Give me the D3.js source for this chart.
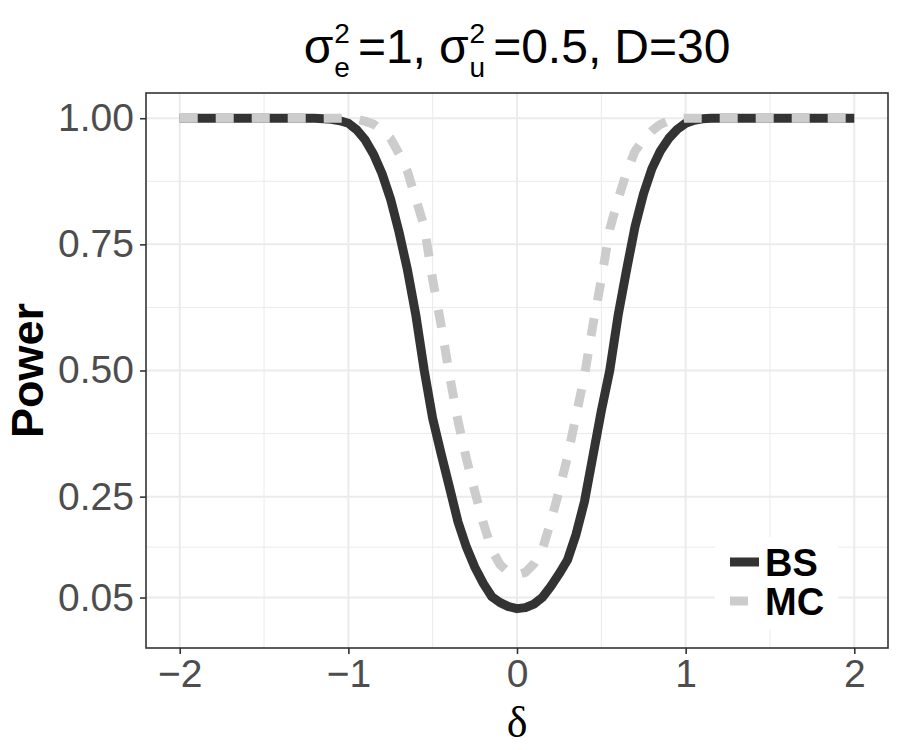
<!DOCTYPE html>
<html>
<head>
<meta charset="utf-8">
<script src="https://cdn.jsdelivr.net/npm/d3@7"></script>
<style>
    body { margin: 0; background: #fff; }
    svg { display: block; font-family: "Liberation Sans", Arial, sans-serif; }
</style>
</head>
<body>
<svg id="graph" width="900" height="750"></svg>
<script>
// delta grid (shared by both series)
const deltas = [-2, -1.6, -1.2, -1.15, -1.1, -1.05, -1.0, -0.95, -0.9, -0.85, -0.8, -0.75, -0.7, -0.65,
    -0.6, -0.55, -0.5, -0.45, -0.4, -0.35, -0.3, -0.25, -0.2, -0.15, -0.1, -0.05, 0,
    0.05, 0.1, 0.15, 0.2, 0.25, 0.3, 0.35, 0.4, 0.45, 0.5, 0.55, 0.6, 0.65, 0.7, 0.75, 0.8,
    0.85, 0.9, 0.95, 1.0, 1.05, 1.1, 1.15, 1.2, 1.6, 2];
// bootstrap power
const powerBS = [1, 1, 1, 0.999, 0.998, 0.995, 0.99, 0.977, 0.957, 0.928, 0.89, 0.84, 0.775, 0.7,
    0.61, 0.5, 0.405, 0.335, 0.268, 0.2, 0.15, 0.11, 0.078, 0.052, 0.04, 0.032, 0.028,
    0.03, 0.037, 0.05, 0.072, 0.097, 0.125, 0.175, 0.24, 0.33, 0.42, 0.5, 0.61, 0.7, 0.785, 0.85, 0.9,
    0.935, 0.96, 0.978, 0.99, 0.996, 0.999, 1, 1, 1, 1];
// monte carlo power
const powerMC = [1, 1, 1, 1, 1, 1, 1, 0.998, 0.994, 0.988, 0.975, 0.96, 0.93, 0.895,
    0.84, 0.785, 0.68, 0.59, 0.49, 0.4, 0.325, 0.26, 0.198, 0.145, 0.115, 0.1, 0.095,
    0.1, 0.117, 0.145, 0.2, 0.262, 0.33, 0.41, 0.49, 0.59, 0.68, 0.78, 0.84, 0.893, 0.935, 0.958, 0.975,
    0.988, 0.995, 0.999, 1, 1, 1, 1, 1, 1, 1];

const xTicks = [-2, -1, 0, 1, 2];
const xMinor = [-1.5, -0.5, 0.5, 1.5];
const yTicks = [0.05, 0.25, 0.5, 0.75, 1.0];
const yMinor = [0.15, 0.375, 0.625, 0.875];
const seriesNames = ['BS', 'MC'];

(function () {
    const svg = d3.select('#graph');
    const panel = { left: 146, right: 888, top: 93, bottom: 648 };

    const x = d3.scaleLinear().domain([-2.2, 2.2]).range([panel.left, panel.right]);
    const y = d3.scaleLinear().domain([-0.05, 1.05]).range([panel.bottom, panel.top]);

    const series = [
        { id: 'BS', values: powerBS, color: '#333333', dash: null },
        { id: 'MC', values: powerMC, color: '#CCCCCC', dash: '18,18' }
    ];

    // 패널 배경 + 그리드
    svg.append('rect')
        .attr('x', panel.left).attr('y', panel.top)
        .attr('width', panel.right - panel.left).attr('height', panel.bottom - panel.top)
        .attr('fill', '#fff');

    const grid = svg.append('g').attr('stroke', '#EBEBEB');
    grid.selectAll('.xm').data(xMinor).enter().append('line')
        .attr('x1', d => x(d)).attr('x2', d => x(d))
        .attr('y1', panel.top).attr('y2', panel.bottom).attr('stroke-width', 1);
    grid.selectAll('.ym').data(yMinor).enter().append('line')
        .attr('y1', d => y(d)).attr('y2', d => y(d))
        .attr('x1', panel.left).attr('x2', panel.right).attr('stroke-width', 1);
    grid.selectAll('.xM').data(xTicks).enter().append('line')
        .attr('x1', d => x(d)).attr('x2', d => x(d))
        .attr('y1', panel.top).attr('y2', panel.bottom).attr('stroke-width', 2);
    grid.selectAll('.yM').data(yTicks).enter().append('line')
        .attr('y1', d => y(d)).attr('y2', d => y(d))
        .attr('x1', panel.left).attr('x2', panel.right).attr('stroke-width', 2);

    // 선
    const line = d3.line()
        .x((d, i) => x(deltas[i]))
        .y(d => y(d));

    svg.append('g').selectAll('path')
        .data(series)
        .enter()
        .append('path')
        .attr('d', d => line(d.values))
        .attr('fill', 'none')
        .attr('stroke', d => d.color)
        .attr('stroke-width', 9)
        .attr('stroke-linejoin', 'round')
        .attr('stroke-dasharray', d => d.dash);

    // 범례
    const legend = svg.append('g');
    legend.append('rect')
        .attr('x', 715).attr('y', 537).attr('width', 123).attr('height', 93)
        .attr('fill', '#fff');
    const item = legend.selectAll('g')
        .data(series)
        .enter()
        .append('g')
        .attr('transform', (d, i) => `translate(730,${562 + i * 39})`);
    item.append('line')
        .attr('x1', 0).attr('x2', 29)
        .attr('stroke', d => d.color)
        .attr('stroke-width', 9)
        .attr('stroke-dasharray', d => d.dash);
    item.append('text')
        .attr('x', 35).attr('dy', '0.36em')
        .style('font-size', '38px').style('font-weight', 'bold')
        .attr('fill', '#000')
        .text((d, i) => seriesNames[i]);

    // 테두리
    svg.append('rect')
        .attr('x', panel.left).attr('y', panel.top)
        .attr('width', panel.right - panel.left).attr('height', panel.bottom - panel.top)
        .attr('fill', 'none').attr('stroke', '#333333').attr('stroke-width', 1.6);

    // x축
    const xAxis = svg.append('g')
        .attr('transform', `translate(0,${panel.bottom})`)
        .call(d3.axisBottom(x).tickValues(xTicks).tickSize(6).tickPadding(5)
            .tickFormat(d => d < 0 ? '\u2212' + Math.abs(d) : d));
    xAxis.select('.domain').remove();
    xAxis.selectAll('line').attr('stroke', '#333333').attr('stroke-width', 1.6);
    xAxis.selectAll('text').attr('fill', '#4D4D4D')
        .style('font-size', '39px').style('font-family', '"Liberation Sans", Arial, sans-serif');

    // y축
    const yAxis = svg.append('g')
        .attr('transform', `translate(${panel.left},0)`)
        .call(d3.axisLeft(y).tickValues(yTicks).tickSize(6).tickPadding(6)
            .tickFormat(d3.format('.2f')));
    yAxis.select('.domain').remove();
    yAxis.selectAll('line').attr('stroke', '#333333').attr('stroke-width', 1.6);
    yAxis.selectAll('text').attr('fill', '#4D4D4D')
        .style('font-size', '39px').style('font-family', '"Liberation Sans", Arial, sans-serif');

    // 축 제목
    svg.append('text')
        .attr('transform', `translate(43,${(panel.top + panel.bottom) / 2}) rotate(-90)`)
        .attr('text-anchor', 'middle')
        .style('font-size', '45px').style('font-weight', 'bold')
        .text('Power');
    svg.append('text')
        .attr('x', x(0)).attr('y', 737)
        .attr('text-anchor', 'middle')
        .style('font-size', '44px').style('font-family', '"Liberation Serif", "DejaVu Serif", serif')
        .text('δ');

    // 제목 (plotmath 스타일: 위첨자/아래첨자)
    const titleParts = [
        { t: 'σ' }, { sup: '2', sub: 'e' }, { t: '=1,', dx: 8 },
        { t: 'σ', dx: 13 }, { sup: '2', sub: 'u' }, { t: '=0.5,', dx: 8 }, { t: 'D=30', dx: 13 }
    ];
    const title = svg.append('g');
    let cx = 0;
    titleParts.forEach(p => {
        cx += p.dx || 0;
        if (p.t) {
            const el = title.append('text').attr('x', cx).attr('y', 63)
                .style('font-size', '48px').text(p.t);
            cx += el.node().getComputedTextLength();
        } else {
            const a = title.append('text').attr('x', cx + 1).attr('y', 43)
                .style('font-size', '28px').text(p.sup);
            const b = title.append('text').attr('x', cx + 1).attr('y', 77)
                .style('font-size', '28px').text(p.sub);
            cx += 1 + Math.max(a.node().getComputedTextLength(), b.node().getComputedTextLength());
        }
    });
    title.attr('transform', `translate(${(panel.left + panel.right) / 2 - cx / 2},0)`);
}());
</script>
</body>
</html>
